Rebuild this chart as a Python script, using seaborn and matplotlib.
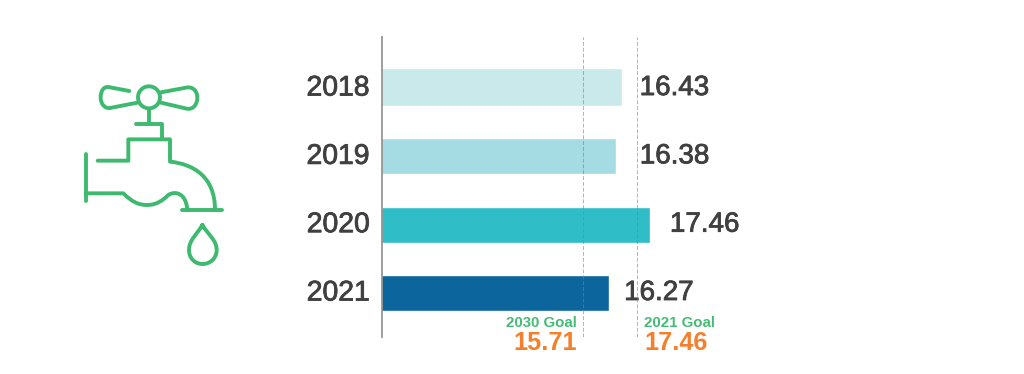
import pandas as pd
import seaborn as sns
import matplotlib.pyplot as plt
import matplotlib.patheffects as pe
from matplotlib.path import Path
from matplotlib.patches import PathPatch, Circle
from matplotlib.transforms import ScaledTranslation

years = ['2018', '2019', '2020', '2021']
printed_values = ['16.43', '16.38', '17.46', '16.27']
# the source graphic is not to scale: bar ends are read off the picture,
# on the scale that the two goal lines set, and differ from the printed numbers
bar_ends = [16.98, 16.78, 17.90, 16.54]
goal_names = ['2030 Goal', '2021 Goal']
goal_values = [15.71, 17.46]
bar_colors = ['#c9e9ea', '#a5dce3', '#2fbdc8', '#0d659e']

sns.set_style('white')
plt.rcParams['font.family'] = ['Liberation Sans', 'DejaVu Sans']

W, H = 1024, 374
GREEN = '#3dba6f'
ORANGE = '#f47f2c'
DARK = '#404040'
medium = [pe.withStroke(linewidth=0.6, foreground=DARK)]

fig = plt.figure(figsize=(W / 100, H / 100), dpi=100)

#chart axes, pixel box 382..760 by 37..337
ax = fig.add_axes([382 / W, 1 - 337 / H, 378 / W, 300 / H])
df = pd.DataFrame({'year': years, 'end': bar_ends})
sns.barplot(x='end', y='year', data=df, hue='year', palette=bar_colors,
            saturation=1, width=0.53, legend=False, ax=ax)
ax.set_xlim(9.125, 21.48)
ax.set_ylim(3.644, -0.747)
ax.set_xlabel('')
ax.set_ylabel('')
ax.set_xticks([])
ax.tick_params(axis='y', length=0, pad=9, labelsize=20.4, labelcolor=DARK)

#top bar is a touch taller in the original
ax.patches[0].set_y(-0.30)
ax.patches[0].set_height(0.57)

#year labels sit a little above the bar centres
lift = ScaledTranslation(0, 2.5 / 100, fig.dpi_scale_trans)
for lab in ax.get_yticklabels():
    lab.set_path_effects(medium)
    lab.set_transform(lab.get_transform() + lift)
sns.despine(ax=ax, top=True, right=True, bottom=True)
ax.spines['left'].set_color('#969696')
ax.spines['left'].set_linewidth(1.3)

#value labels next to the bars
gaps = [12.5, 17, 14, 11]
for i, txt in enumerate(printed_values):
    ax.annotate(txt, xy=(bar_ends[i], i), xytext=(gaps[i], 0),
                textcoords='offset points', ha='left', va='center',
                fontsize=20, color=DARK, path_effects=medium)

#goal lines and their labels
sides = [(-5, 'right'), (5, 'left')]
for name, val, (dx, ha) in zip(goal_names, goal_values, sides):
    ax.axvline(val, color='#7f7f7f', lw=0.7, ls=(0, (4, 2)), alpha=0.6, zorder=5)
    ax.annotate(name, xy=(val, 0), xycoords=('data', 'axes fraction'),
                xytext=(dx, 10.4), textcoords='offset points', ha=ha, va='center',
                fontsize=10.8, fontweight='bold', color='#45bb78',
                annotation_clip=False)
    ax.annotate(f'{val:.2f}', xy=(val, 0), xycoords=('data', 'axes fraction'),
                xytext=(dx, -4.6), textcoords='offset points', ha=ha, va='center',
                fontsize=18.2, fontweight='bold', color=ORANGE,
                annotation_clip=False)

#tap icon, drawn in its own little axes
icon = fig.add_axes([60 / W, 1 - 280 / H, 190 / W, 220 / H])
icon.set_xlim(0, 570)
icon.set_ylim(660, 0)
icon.axis('off')

M, L, C = Path.MOVETO, Path.LINETO, Path.CURVE4
shapes = [
    ([(77, 283), (77, 423)], [M, L]),
    ([(77, 400), (190, 400), (215, 425), (235, 435), (262, 435),
      (290, 435), (310, 420), (325, 405), (345, 392), (378, 398), (382, 449)],
     [M, L, C, C, C, C, C, C, C, C, C]),
    ([(367, 449), (485, 449)], [M, L]),
    ([(113, 302), (205, 302), (205, 238), (330, 238), (330, 305),
      (400, 312), (465, 350), (465, 449)], [M, L, L, L, L, C, C, C]),
    ([(228, 193), (307, 193), (307, 238)], [M, L, L]),
    ([(267, 146), (267, 193)], [M, L]),
    ([(208, 93), (150, 82), (130, 76), (122, 95), (122, 112),
      (122, 132), (135, 149), (155, 143), (232, 128)],
     [M, L, C, C, C, C, C, C, L]),
    ([(303, 97), (378, 83), (400, 78), (412, 95), (412, 113),
      (412, 132), (400, 150), (380, 146), (303, 128)],
     [M, L, C, C, C, C, C, C, L]),
    ([(427, 495), (410, 525), (387, 540), (387, 570), (387, 595), (405, 612),
      (428, 612), (450, 612), (470, 595), (470, 570), (470, 540), (445, 525),
      (427, 495)], [M, C, C, C, C, C, C, C, C, C, C, C, C]),
]
for verts, codes in shapes:
    icon.add_patch(PathPatch(Path(verts, codes), fill=False, edgecolor=GREEN,
                             lw=2.8, capstyle='round', joinstyle='round'))
icon.add_patch(Circle((267, 112), 33, fill=False, edgecolor=GREEN, lw=2.8))

plt.savefig('out.png', dpi=100)
